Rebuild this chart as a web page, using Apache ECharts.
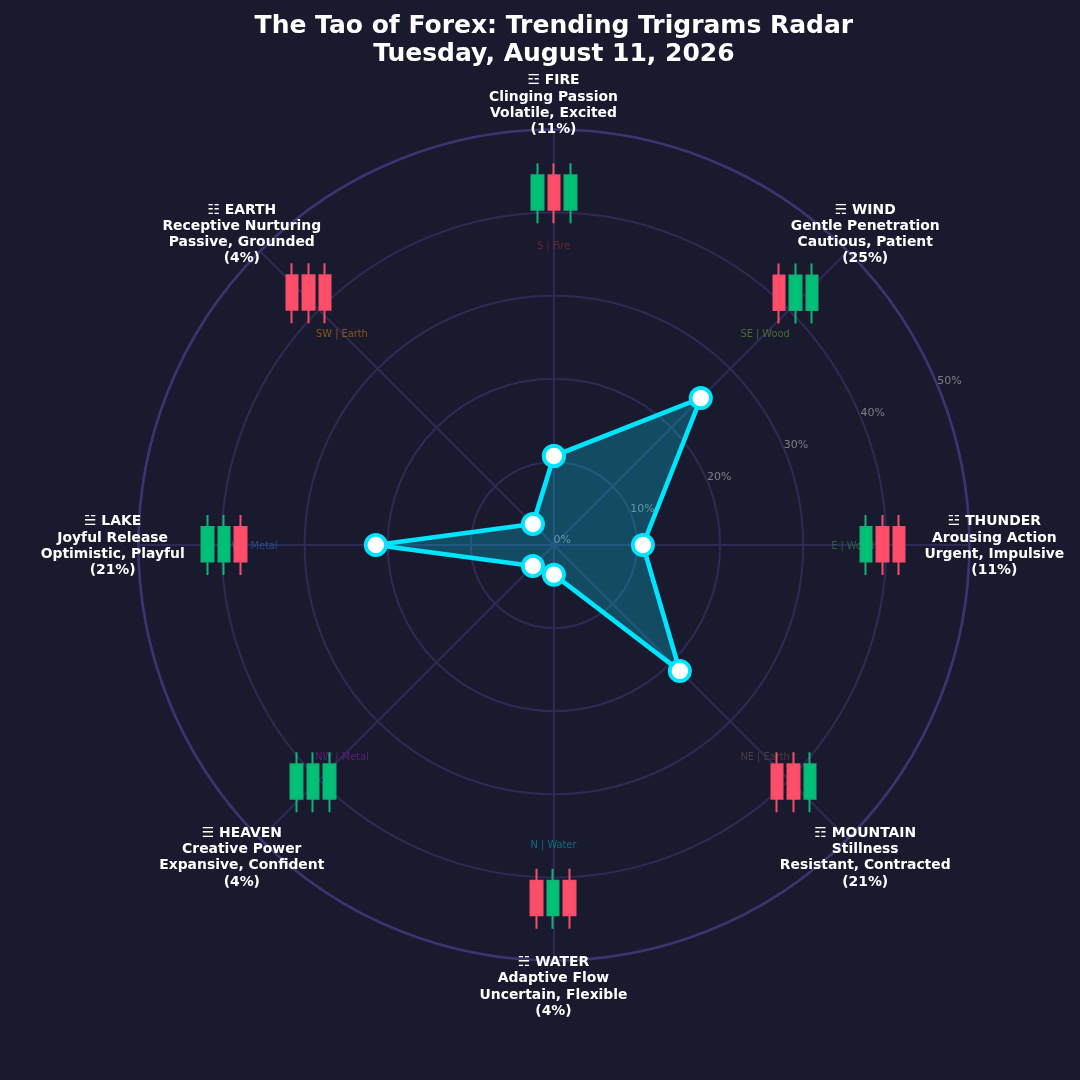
<!DOCTYPE html>
<html>
<head>
<meta charset="utf-8">
<style>html,body{margin:0;padding:0;background:#1a1a2e}#c{width:1080px;height:1080px}</style>
<script src="https://cdn.jsdelivr.net/npm/echarts@6/dist/echarts.min.js"></script>
</head>
<body>
<div id="c"></div>
<script>
// ---- data ----
const titleLines = ['The Tao of Forex: Trending Trigrams Radar', 'Tuesday, August 11, 2026'];
const symbols = ['☲','☴','☳','☶','☵','☰','☱','☷'];
const names = ['FIRE','WIND','THUNDER','MOUNTAIN','WATER','HEAVEN','LAKE','EARTH'];
const meanings = ['Clinging Passion','Gentle Penetration','Arousing Action','Stillness','Adaptive Flow','Creative Power','Joyful Release','Receptive Nurturing'];
const moods = ['Volatile, Excited','Cautious, Patient','Urgent, Impulsive','Resistant, Contracted','Uncertain, Flexible','Expansive, Confident','Optimistic, Playful','Passive, Grounded'];
const directions = ['S | Fire','SE | Wood','E | Wood','NE | Earth','N | Water','NW | Metal','W | Metal','SW | Earth'];
const percents = [10.71,25,10.71,21.43,3.57,3.57,21.43,3.57];
const percentLabels = [11,25,11,21,4,4,21,4];
const radialTicks = [0,10,20,30,40,50];
// candle direction per trigram: 1 = up (green), 0 = down (red)
const candleUps = [[1,0,1],[0,1,1],[1,0,0],[0,0,1],[0,1,0],[1,1,1],[1,1,0],[0,0,0]];
const candleLow = -0.395, candleHigh = 1.35;

// ---- layout / style ----
const BG = '#1a1a2e', CX = 553.9, CY = 545, R = 415.5;
const dirColors = ['#6b2335','#4a6a34','#2f6046','#4a3a42','#0f6c82','#5a1f78','#1f4e88','#8a5519'];
const insetCenters = [[554,193.3],[795.5,293.5],[882.5,545],[793.5,782.3],[553,898.8],[313,782.3],[224,545],[308.5,293.3]];
const INSET_W = 50, INSET_H = 60;
const STEP = 45, RADIAL_ANGLE = 67.5, LABEL_R = 53.05, DIR_R = 36;
const UP = '#00c176', DOWN = '#ff4d6a';

const grids = [], xAxes = [], yAxes = [], candleSeries = [];
candleUps.forEach((ups, i) => {
  const [cx, cy] = insetCenters[i];
  grids.push({left: cx - INSET_W/2, top: cy - INSET_H/2, width: INSET_W, height: INSET_H, containLabel:false});
  xAxes.push({type:'category', gridIndex:i, data:['1','2','3'], show:false});
  yAxes.push({type:'value', gridIndex:i, min:candleLow, max:candleHigh, show:false, splitLine:{show:false}});
  candleSeries.push({
    type:'candlestick', xAxisIndex:i, yAxisIndex:i, barWidth:12, z:3, silent:true, animation:false,
    itemStyle:{color:UP, color0:DOWN, borderColor:'#10b376', borderColor0:'#f44e6b', borderWidth:2},
    data: ups.map(u => u ? [0,1,candleLow,candleHigh] : [1,0,candleLow,candleHigh])
  });
});

const hiddenDot = {symbol:'circle', symbolSize:1, itemStyle:{color:'rgba(0,0,0,0)', opacity:1}, clip:false, silent:true, animation:false, coordinateSystem:'polar', type:'scatter'};

const option = {
  backgroundColor: BG,
  animation:false,
  title:{
    text: titleLines.join('\n'), left:CX-5, top:7, textAlign:'center',
    textStyle:{color:'#fff', fontFamily:'DejaVu Sans', fontWeight:'bold', fontSize:25, lineHeight:28}
  },
  polar:{center:[CX,CY], radius:R},
  angleAxis:{
    type:'value', min:0, max:360, interval:STEP, startAngle:90, clockwise:true,
    axisLabel:{show:false}, axisTick:{show:false}, minorTick:{show:false},
    axisLine:{show:true, lineStyle:{color:'#3a3570', width:2.6}},
    splitLine:{show:true, lineStyle:{color:'#2d2a55', width:2, type:'solid'}}
  },
  radiusAxis:{
    type:'value', min:0, max:50, interval:10,
    axisLine:{show:false}, axisTick:{show:false}, axisLabel:{show:false},
    splitLine:{show:true, lineStyle:{color:'#2d2a55', width:2, type:'solid'}}
  },
  grid:grids, xAxis:xAxes, yAxis:yAxes,
  series:[
    ...candleSeries,
    Object.assign({}, hiddenDot, {
      z:2,
      data: radialTicks.map(t => ({value:[t, RADIAL_ANGLE], name:t+'%'})),
      label:{show:true, position:'inside', align:'left', verticalAlign:'middle', offset:[-0.4,-4.5],
        formatter:p=>p.name, color:'#7f7f86', fontFamily:'DejaVu Sans', fontSize:11}
    }),
    Object.assign({}, hiddenDot, {
      z:2,
      data: directions.map((d,i) => ({value:[DIR_R, i*STEP], name:d,
        label:{color:dirColors[i]}})),
      label:{show:true, position:'inside', align:'center', verticalAlign:'middle', offset:[-0.4,1],
        formatter:p=>p.name, fontFamily:'DejaVu Sans', fontSize:9.8}
    }),
    {
      type:'line', coordinateSystem:'polar', z:5, silent:true, animation:false, clip:false,
      symbol:'circle', symbolSize:20.2, showAllSymbol:true,
      lineStyle:{color:'#00e5ff', width:4.6},
      itemStyle:{color:'#fff', borderColor:'#00e5ff', borderWidth:3.8},
      areaStyle:{color:'#00e5ff', opacity:0.25},
      data: percents.concat(percents[0]).map((v,i) => [v, (i%percents.length)*STEP])
    },
    Object.assign({}, hiddenDot, {
      z:6,
      data: names.map((n,i) => ({value:[LABEL_R, i*STEP],
        name:`${symbols[i]} ${n}\n${meanings[i]}\n${moods[i]}\n(${percentLabels[i]}%)`})),
      label:{show:true, position:'inside', align:'center', verticalAlign:'middle', offset:[-0.4,1],
        formatter:p=>p.name, color:'#fff', fontFamily:'DejaVu Sans', fontWeight:'bold', fontSize:13.9, lineHeight:16.2}
    })
  ]
};
echarts.init(document.getElementById('c'), null, {renderer:'canvas'}).setOption(option);
</script>
</body>
</html>
